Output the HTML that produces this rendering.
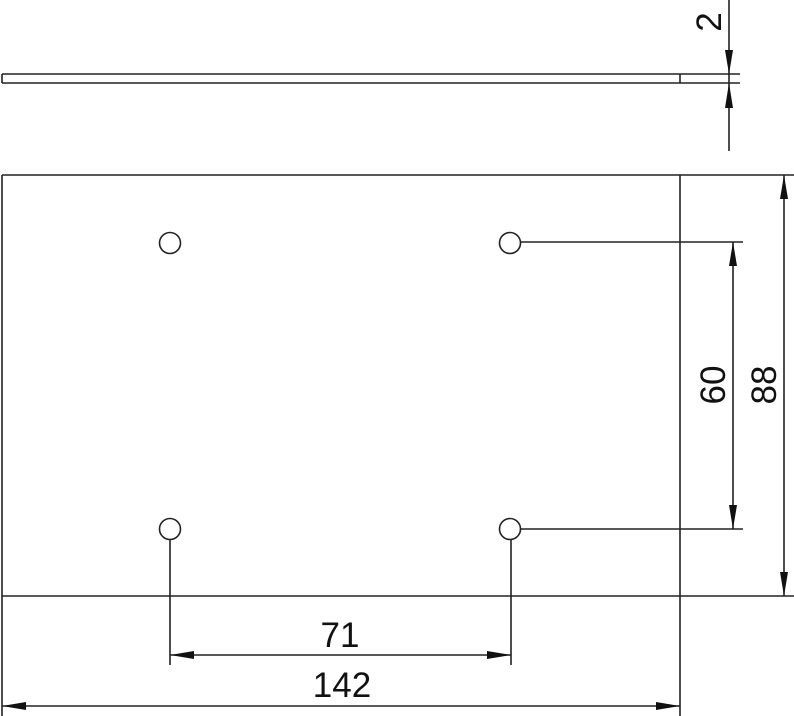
<!DOCTYPE html>
<html><head><meta charset="utf-8"><style>html,body{margin:0;padding:0;background:#fff}svg{display:block}</style></head>
<body>
<svg width="794" height="716" viewBox="0 0 794 716" xmlns="http://www.w3.org/2000/svg">
<g stroke="#222" stroke-width="1.6" fill="none">
<!-- thin plate side view -->
<line x1="2" y1="74" x2="740" y2="74"/>
<line x1="2" y1="83" x2="740" y2="83"/>
<line x1="2" y1="74" x2="2" y2="83"/>
<line x1="680" y1="74" x2="680" y2="83"/>
<line x1="729" y1="0" x2="729" y2="151"/>
<!-- main plate -->
<line x1="2" y1="175" x2="794" y2="175"/>
<line x1="2" y1="596" x2="794" y2="596"/>
<line x1="2" y1="175" x2="2" y2="716"/>
<line x1="680" y1="175" x2="680" y2="716"/>
<circle cx="170" cy="243" r="10.5"/>
<circle cx="510" cy="243" r="10.5"/>
<circle cx="170" cy="529" r="10.5"/>
<circle cx="510" cy="529" r="10.5"/>
<!-- leaders -->
<line x1="520" y1="242" x2="743" y2="242"/>
<line x1="520" y1="529" x2="743" y2="529"/>
<line x1="733" y1="242" x2="733" y2="529"/>
<line x1="784" y1="175" x2="784" y2="596"/>
<line x1="170" y1="539" x2="170" y2="665"/>
<line x1="511" y1="539" x2="511" y2="665"/>
<line x1="170" y1="655" x2="511" y2="655"/>
<line x1="2" y1="706" x2="680" y2="706"/>
</g>
<g fill="#111">
<polygon points="729,74 725,50 733,50"/>
<polygon points="729,83 725,108 733,108"/>
<polygon points="733,242 729,266 737,266"/>
<polygon points="733,529 729,505 737,505"/>
<polygon points="784,175 780,199 788,199"/>
<polygon points="784,596 780,572 788,572"/>
<polygon points="170,655 194,651 194,659"/>
<polygon points="511,655 487,651 487,659"/>
<polygon points="2,706 26,702 26,710"/>
<polygon points="680,706 656,702 656,710"/>
</g>
<g font-family="Liberation Sans, sans-serif" font-size="35" fill="#111" text-anchor="middle">
<text x="340" y="647">71</text>
<text x="342" y="697">142</text>
<text transform="translate(725,385) rotate(-90)">60</text>
<text transform="translate(776,385) rotate(-90)">88</text>
<text transform="translate(721,22) rotate(-90)">2</text>
</g>
</svg>
</body></html>
